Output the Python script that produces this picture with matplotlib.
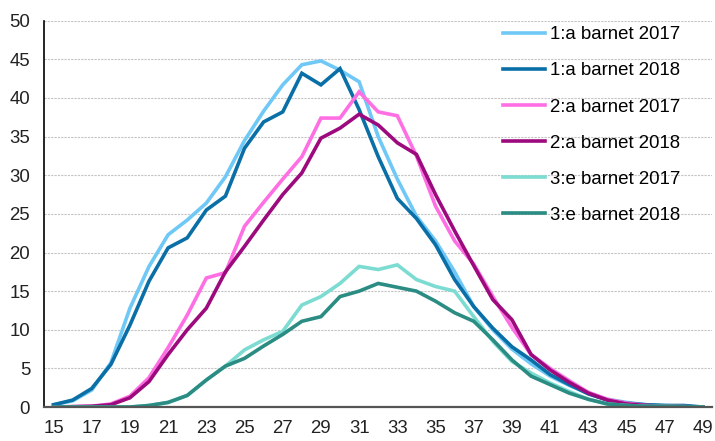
import matplotlib
matplotlib.use("Agg")
import matplotlib.pyplot as plt

plt.rcParams["font.family"] = ["Liberation Sans", "DejaVu Sans"]

# age of mother (x axis)
ages = list(range(15, 50))

# share per age
first_2017 = [0.3, 0.8, 2.2, 5.7, 12.8, 18.2, 22.3, 24.2, 26.4, 29.8, 34.5, 38.3, 41.7, 44.3, 44.8,
              43.6, 42.1, 35.0, 29.5, 24.7, 21.5, 17.5, 13.0, 10.0, 7.5, 5.6, 4.0, 2.8, 1.8, 1.0,
              0.6, 0.3, 0.2, 0.1, 0.0]
first_2018 = [0.3, 0.9, 2.4, 5.5, 10.6, 16.3, 20.6, 21.9, 25.5, 27.3, 33.5, 36.9, 38.2, 43.2, 41.7,
              43.8, 38.5, 32.4, 27.0, 24.4, 21.0, 16.5, 13.0, 10.2, 7.8, 6.1, 4.2, 2.9, 1.7, 0.9,
              0.5, 0.3, 0.2, 0.2, 0.0]
second_2017 = [0.0, 0.05, 0.1, 0.4, 1.4, 3.8, 7.7, 11.9, 16.7, 17.4, 23.4, 26.5, 29.5, 32.4, 37.4,
               37.4, 40.8, 38.2, 37.7, 32.5, 26.0, 21.5, 18.5, 14.3, 10.3, 6.8, 5.0, 3.4, 1.9, 1.0,
               0.5, 0.2, 0.1, 0.05, 0.0]
second_2018 = [0.0, 0.05, 0.1, 0.3, 1.2, 3.3, 6.8, 10.0, 12.8, 17.5, 20.8, 24.2, 27.5, 30.3, 34.8,
               36.1, 37.9, 36.5, 34.2, 32.7, 27.5, 22.8, 18.3, 13.9, 11.3, 6.8, 4.8, 3.2, 1.8, 0.9,
               0.4, 0.2, 0.1, 0.05, 0.0]
third_2017 = [0.0, 0.0, 0.0, 0.0, 0.0, 0.2, 0.6, 1.5, 3.5, 5.3, 7.4, 8.7, 9.8, 13.2, 14.3,
              16.0, 18.2, 17.8, 18.4, 16.5, 15.6, 15.0, 11.7, 8.5, 5.9, 4.4, 3.1, 2.0, 1.0, 0.4,
              0.2, 0.1, 0.1, 0.05, 0.0]
third_2018 = [0.0, 0.0, 0.0, 0.0, 0.0, 0.2, 0.6, 1.5, 3.5, 5.3, 6.3, 7.9, 9.4, 11.1, 11.7,
              14.3, 15.0, 16.0, 15.5, 15.0, 13.7, 12.2, 11.1, 8.7, 6.1, 4.0, 2.9, 1.8, 1.0, 0.4,
              0.2, 0.1, 0.1, 0.05, 0.0]

series = [
    ("1:a barnet 2017", first_2017, "#6fc8f6"),
    ("1:a barnet 2018", first_2018, "#0a6fa6"),
    ("2:a barnet 2017", second_2017, "#ff6fe4"),
    ("2:a barnet 2018", second_2018, "#9c0a7e"),
    ("3:e barnet 2017", third_2017, "#7ddcd2"),
    ("3:e barnet 2018", third_2018, "#2a8c82"),
]

fig = plt.figure(figsize=(7.15, 4.41), dpi=100)
ax = fig.add_axes([0.0615, 0.077, 0.935, 0.876])

for label, vals, col in series:
    ax.plot(ages, vals, color=col, lw=2.6, label=label, solid_joinstyle="miter")

ax.set_xlim(14.5, 49.5)
ax.set_ylim(0, 50)
ax.set_xticks(range(15, 50, 2))
ax.set_yticks(range(0, 51, 5))
ax.tick_params(axis="both", length=0, labelsize=13.4, colors="#222222")
ax.tick_params(axis="x", pad=9)
ax.tick_params(axis="y", pad=10)
ax.yaxis.grid(True, color="#c4c4c4", ls=(0, (2, 1)), lw=0.8)
ax.set_axisbelow(True)
for s in ("top", "right"):
    ax.spines[s].set_visible(False)
ax.spines["left"].set_color("black")
ax.spines["left"].set_linewidth(1.2)
ax.spines["bottom"].set_color("#555555")
ax.spines["bottom"].set_linewidth(1.6)

fig.legend(loc="upper left", bbox_to_anchor=(0.7035, 0.94), frameon=False,
           fontsize=13.4, handlelength=2.25, handletextpad=0.3, labelspacing=1.02,
           borderpad=0, borderaxespad=0)

fig.savefig("out.png", dpi=100)
